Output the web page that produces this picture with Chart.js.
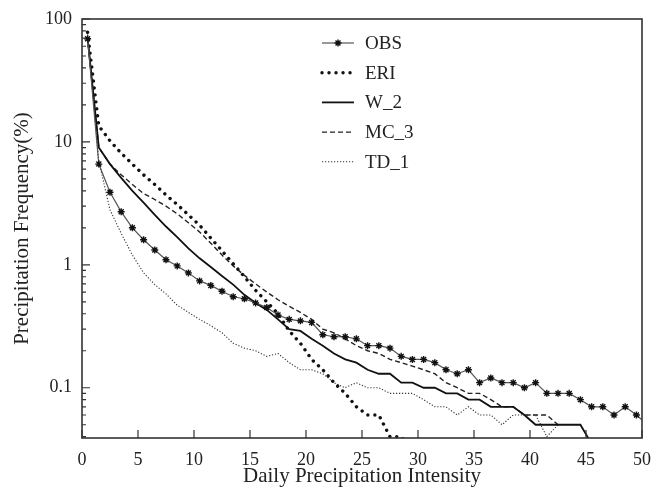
<!DOCTYPE html>
<html>
<head>
<meta charset="utf-8">
<title>Precipitation Frequency</title>
<script src="https://cdn.jsdelivr.net/npm/chart.js@4.4.1/dist/chart.umd.min.js"></script>
<style>
  html, body { margin: 0; padding: 0; background: #fff; }
</style>
</head>
<body>
<canvas id="myChart" width="653" height="489"></canvas>
<script>
// x positions of the frequency bins (daily intensity)
const intensity = [0.5, 1.5, 2.5, 3.5, 4.5, 5.5, 6.5, 7.5, 8.5, 9.5,
  10.5, 11.5, 12.5, 13.5, 14.5, 15.5, 16.5, 17.5, 18.5, 19.5,
  20.5, 21.5, 22.5, 23.5, 24.5, 25.5, 26.5, 27.5, 28.5, 29.5,
  30.5, 31.5, 32.5, 33.5, 34.5, 35.5, 36.5, 37.5, 38.5, 39.5,
  40.5, 41.5, 42.5, 43.5, 44.5, 45.5, 46.5, 47.5, 48.5, 49.5, 50.5];

const obs = [69, 6.6, 3.9, 2.7, 2.0, 1.6, 1.32, 1.1, 0.98, 0.86,
  0.74, 0.68, 0.61, 0.55, 0.53, 0.49, 0.45, 0.39, 0.36, 0.35,
  0.34, 0.27, 0.26, 0.26, 0.25, 0.22, 0.22, 0.21, 0.18, 0.17,
  0.17, 0.16, 0.14, 0.13, 0.14, 0.11, 0.12, 0.11, 0.11, 0.10,
  0.11, 0.09, 0.09, 0.09, 0.08, 0.07, 0.07, 0.06, 0.07, 0.06, 0.05];

const eri = [78, 13.5, 10.2, 8.1, 6.6, 5.4, 4.5, 3.7, 3.1, 2.55,
  2.1, 1.65, 1.3, 1.02, 0.80, 0.62, 0.50, 0.40, 0.29, 0.23,
  0.17, 0.14, 0.11, 0.09, 0.07, 0.06, 0.06, 0.04, 0.04, 0.03];

const w2 = [70, 9.0, 6.6, 5.1, 4.0, 3.2, 2.55, 2.05, 1.68, 1.36,
  1.13, 0.96, 0.81, 0.69, 0.57, 0.49, 0.43, 0.36, 0.30, 0.29,
  0.25, 0.22, 0.19, 0.17, 0.16, 0.14, 0.13, 0.13, 0.11, 0.11,
  0.10, 0.10, 0.09, 0.09, 0.08, 0.08, 0.07, 0.07, 0.07, 0.06,
  0.05, 0.05, 0.05, 0.05, 0.05, 0.035];

const mc3 = [70, 9.0, 6.6, 5.4, 4.5, 3.8, 3.4, 3.0, 2.6, 2.2,
  1.85, 1.5, 1.2, 0.98, 0.82, 0.70, 0.60, 0.52, 0.46, 0.41,
  0.36, 0.30, 0.28, 0.25, 0.22, 0.20, 0.19, 0.17, 0.16, 0.15,
  0.14, 0.13, 0.11, 0.10, 0.09, 0.09, 0.08, 0.07, 0.07, 0.06,
  0.06, 0.06, 0.05];

const td1 = [75, 7.0, 2.8, 1.8, 1.2, 0.86, 0.69, 0.58, 0.47, 0.41,
  0.36, 0.32, 0.28, 0.23, 0.21, 0.20, 0.18, 0.19, 0.16, 0.14,
  0.14, 0.13, 0.11, 0.10, 0.11, 0.10, 0.10, 0.09, 0.09, 0.09,
  0.08, 0.07, 0.07, 0.06, 0.07, 0.06, 0.06, 0.05, 0.06, 0.06,
  0.06, 0.04, 0.05];

const seriesNames = ["OBS", "ERI", "W_2", "MC_3", "TD_1"];
const xTickValues = [0, 5, 10, 15, 20, 25, 30, 35, 40, 45, 50];
const yTickValues = [0.1, 1, 10, 100];
const yTickLabels = ["0.1", "1", "10", "100"];

Chart.defaults.font.family = "'Liberation Serif', 'Times New Roman', serif";
Chart.defaults.color = "#222";

function toPoints(values) {
  return values.map((v, i) => ({ x: intensity[i], y: v }));
}

// inward tick marks, frame and the in-plot legend
const framePlugin = {
  id: "frameAndLegend",
  afterDatasetsDraw(chart) {
    const { ctx, chartArea: a, scales } = chart;
    const x = scales.x, y = scales.y;
    ctx.save();
    ctx.strokeStyle = "#333";
    ctx.lineWidth = 1.2;
    ctx.beginPath();
    xTickValues.forEach((v) => {
      const px = x.getPixelForValue(v);
      ctx.moveTo(px, a.bottom);
      ctx.lineTo(px, a.bottom - 8);
    });
    yTickValues.forEach((v) => {
      const py = y.getPixelForValue(v);
      ctx.moveTo(a.left, py);
      ctx.lineTo(a.left + 8, py);
    });
    for (let d = 0.01; d < 200; d *= 10) {
      for (let m = 2; m <= 9; m++) {
        const v = m * d;
        if (v < y.min || v > y.max) continue;
        const py = y.getPixelForValue(v);
        ctx.moveTo(a.left, py);
        ctx.lineTo(a.left + 4, py);
      }
    }
    ctx.stroke();
    ctx.lineWidth = 1.6;
    ctx.strokeRect(a.left, a.top, a.right - a.left, a.bottom - a.top);
    ctx.restore();
  },
  afterDraw(chart, args, opts) {
    const { ctx, chartArea: a } = chart;
    ctx.save();
    chart.data.datasets.forEach((ds, i) => {
      const yy = a.top + opts.top + i * opts.rowGap;
      const x0 = a.left + opts.left;
      const x1 = x0 + opts.lineLen;
      ctx.strokeStyle = ds.borderColor;
      ctx.lineWidth = ds.borderWidth;
      ctx.lineCap = ds.borderCapStyle || "butt";
      ctx.setLineDash(ds.borderDash || []);
      ctx.beginPath();
      ctx.moveTo(x0, yy);
      ctx.lineTo(x1, yy);
      ctx.stroke();
      ctx.setLineDash([]);
      if (ds.pointRadius > 0) {
        ctx.strokeStyle = ds.pointBorderColor;
        ctx.fillStyle = ds.pointBackgroundColor;
        ctx.lineWidth = ds.pointBorderWidth;
        Chart.helpers.drawPoint(ctx, { pointStyle: ds.pointStyle, radius: ds.pointRadius, rotation: 0, borderWidth: ds.pointBorderWidth }, (x0 + x1) / 2, yy);
      }
      ctx.fillStyle = "#222";
      ctx.font = opts.fontSize + "px " + Chart.defaults.font.family;
      ctx.textBaseline = "middle";
      ctx.textAlign = "left";
      ctx.fillText(ds.label, x1 + opts.textGap, yy + 1);
    });
    ctx.restore();
  }
};

const ctx = document.getElementById("myChart").getContext("2d");

new Chart(ctx, {
  type: "line",
  data: {
    datasets: [
      {
        label: seriesNames[0], data: toPoints(obs),
        borderColor: "#555", borderWidth: 1.2,
        pointStyle: "star", pointRadius: 3.5, pointBorderWidth: 1.4,
        pointBorderColor: "#111", pointBackgroundColor: "#111"
      },
      {
        label: seriesNames[1], data: toPoints(eri),
        borderColor: "#111", borderWidth: 3.4, borderDash: [0.01, 7],
        borderCapStyle: "round", pointRadius: 0
      },
      {
        label: seriesNames[2], data: toPoints(w2),
        borderColor: "#111", borderWidth: 1.8, pointRadius: 0
      },
      {
        label: seriesNames[3], data: toPoints(mc3),
        borderColor: "#222", borderWidth: 1.4, borderDash: [5, 3], pointRadius: 0
      },
      {
        label: seriesNames[4], data: toPoints(td1),
        borderColor: "#333", borderWidth: 1.1, borderDash: [1.2, 1.8], pointRadius: 0
      }
    ]
  },
  options: {
    responsive: false,
    animation: false,
    devicePixelRatio: 1,
    layout: { padding: { top: 19, right: 11, left: 0, bottom: 0 } },
    plugins: {
      legend: { display: false },
      tooltip: { enabled: false },
      frameAndLegend: { left: 240, top: 24, rowGap: 29.7, lineLen: 32, textGap: 11, fontSize: 19 }
    },
    scales: {
      x: {
        type: "linear", min: 0, max: 50,
        afterBuildTicks: (s) => { s.ticks = xTickValues.map((v) => ({ value: v })); },
        afterFit: (s) => { s.height = 51; s.paddingLeft = 0; s.paddingRight = 0; },
        grid: { display: false, drawTicks: false },
        border: { display: false },
        ticks: { padding: 11, color: "#222", font: { size: 18 }, maxRotation: 0 },
        title: { display: true, text: "Daily Precipitation Intensity", font: { size: 21 }, color: "#222", padding: 0 }
      },
      y: {
        type: "logarithmic", min: 0.039, max: 100,
        afterBuildTicks: (s) => { s.ticks = yTickValues.map((v) => ({ value: v })); },
        afterFit: (s) => { s.width = 82; s.paddingTop = 0; s.paddingBottom = 0; },
        grid: { display: false, drawTicks: false },
        border: { display: false },
        ticks: { padding: 10, color: "#222", font: { size: 18 }, callback: (v, i) => yTickLabels[i] },
        title: { display: true, text: "Precipitation Frequency(%)", font: { size: 21 }, color: "#222", padding: { top: 10, bottom: 0 } }
      }
    }
  },
  plugins: [framePlugin]
});
</script>
</body>
</html>
